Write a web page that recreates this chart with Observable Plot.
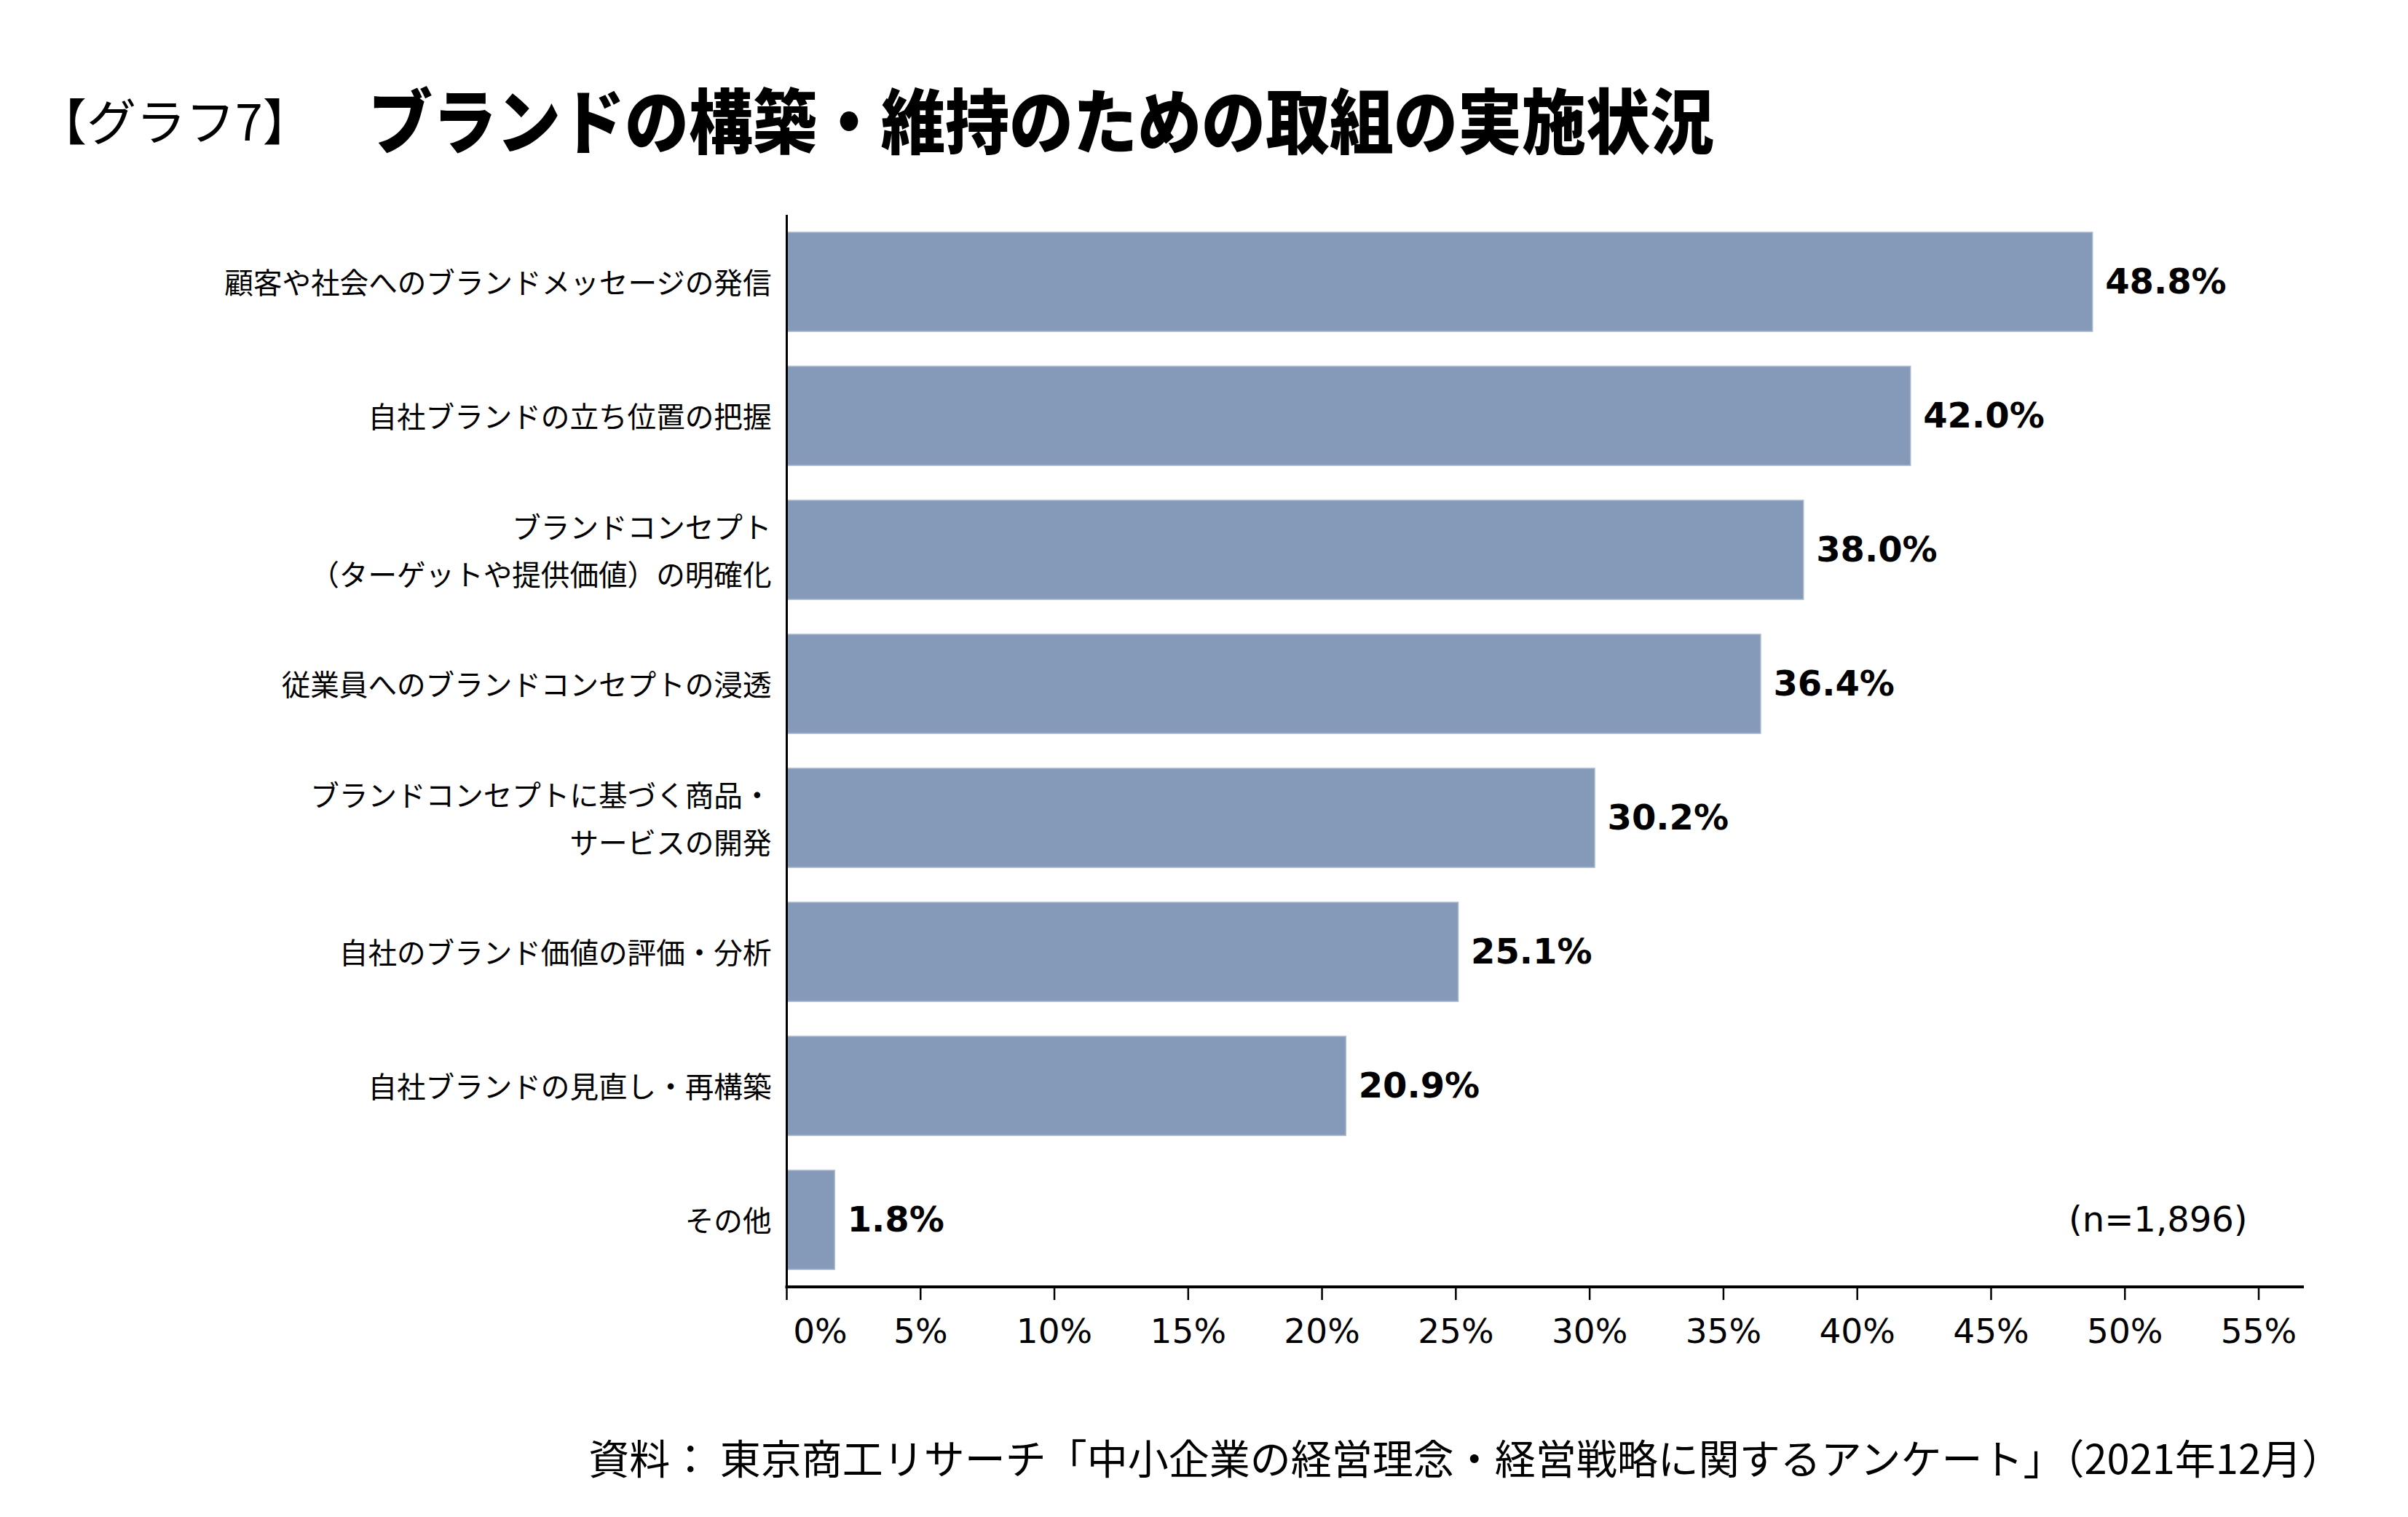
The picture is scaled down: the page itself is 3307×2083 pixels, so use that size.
<!DOCTYPE html>
<html>
<head>
<meta charset="utf-8">
<script src="https://cdn.jsdelivr.net/npm/d3@7"></script>
<script src="https://cdn.jsdelivr.net/npm/@observablehq/plot@0.6"></script>
<style>
  body { margin: 0; background: #fff; }
  #wrap { position: relative; width: 3307px; height: 2083px; overflow: hidden; background: #fff; }
  .t { position: absolute; white-space: nowrap; color: #000; font-family: "Noto Sans CJK JP", sans-serif; line-height: 1; }
  #tag { left: 51px; top: 130px; font-size: 68px; font-weight: 400; }
  #title { left: 506px; top: 117px; font-size: 88px; font-weight: 900; transform: scaleY(1.1); transform-origin: 50% 50%; }
  #source { right: 90px; top: 1972px; font-size: 56px; font-weight: 400; }
  #chart { position: absolute; left: 0; top: 240px; }
</style>
</head>
<body>
<div id="wrap">
  <div id="tag" class="t"></div>
  <div id="title" class="t"></div>
  <div id="chart"></div>
  <div id="source" class="t"></div>
</div>
<script>
const tagText = "【グラフ7】";
const titleText = "ブランドの構築・維持のための取組の実施状況";
const sourceText = "資料： 東京商工リサーチ「中小企業の経営理念・経営戦略に関するアンケート」（2021年12月）";
const sampleNote = "(n=1,896)";

const categories = [
  "顧客や社会へのブランドメッセージの発信",
  "自社ブランドの立ち位置の把握",
  "ブランドコンセプト\n（ターゲットや提供価値）の明確化",
  "従業員へのブランドコンセプトの浸透",
  "ブランドコンセプトに基づく商品・\nサービスの開発",
  "自社のブランド価値の評価・分析",
  "自社ブランドの見直し・再構築",
  "その他"
];
const values = [48.8, 42.0, 38.0, 36.4, 30.2, 25.1, 20.9, 1.8];
const xTicks = [0, 5, 10, 15, 20, 25, 30, 35, 40, 45, 50, 55];
const xMax = 56.7;

document.getElementById("tag").textContent = tagText;
document.getElementById("title").textContent = titleText;
document.getElementById("source").textContent = sourceText;

const data = categories.map((c, i) => ({category: c, value: values[i]}));

const bottomLine = (index, scales, vals, dims) => {
  const ns = "http://www.w3.org/2000/svg";
  const l = document.createElementNS(ns, "line");
  const y = dims.height - dims.marginBottom;
  l.setAttribute("x1", scales.x(0) - 1.5);
  l.setAttribute("x2", scales.x(xMax));
  l.setAttribute("y1", y);
  l.setAttribute("y2", y);
  l.setAttribute("stroke", "#000");
  l.setAttribute("stroke-width", 4);
  return l;
};

const axisStyle = {
  tickFormat: d => d + "%",
  tickSize: 18, tickPadding: 25, strokeWidth: 2.5,
  fontSize: 47, fontFamily: "DejaVu Sans", label: null
};

const chart = Plot.plot({
  width: 3307,
  height: 1660,
  marginTop: 55,
  marginBottom: 133,
  marginLeft: 1080,
  marginRight: 143,
  style: {background: "#fff", color: "#000", overflow: "visible"},
  x: {domain: [0, xMax]},
  y: {domain: categories, paddingInner: 0.26, paddingOuter: 0.13, axis: null},
  marks: [
    Plot.barX(data, {x: "value", y: "category", fill: "#8599b8", stroke: "#a7b6cd", strokeWidth: 1.5}),
    Plot.text(data, {
      x: "value", y: "category",
      text: d => d.value.toFixed(1) + "%",
      textAnchor: "start", dx: 17,
      fontSize: 48, fontWeight: "bold", fontFamily: "DejaVu Sans", fill: "#000"
    }),
    Plot.text(data, {
      x: 0, y: "category", text: "category",
      textAnchor: "end", dx: -21, dy: -5, lineHeight: 1.65,
      fontSize: 39.6, fontFamily: "Noto Sans CJK JP", fill: "#000"
    }),
    Plot.axisX({...axisStyle, ticks: xTicks.slice(1)}),
    Plot.axisX({...axisStyle, ticks: xTicks.slice(0, 1), tickFormat: () => ""}),
    Plot.axisX({...axisStyle, ticks: xTicks.slice(0, 1), tickSize: 0, tickPadding: 43, dx: 46}),
    Plot.ruleX(xTicks.slice(0, 1), {stroke: "#000", strokeWidth: 3}),
    bottomLine,
    Plot.text([sampleNote], {
      y: () => categories[categories.length - 1],
      text: d => d,
      frameAnchor: "right", textAnchor: "end", dx: -78,
      fontSize: 48, fontFamily: "DejaVu Sans", fill: "#000"
    })
  ]
});
document.getElementById("chart").appendChild(chart);
</script>
</body>
</html>
